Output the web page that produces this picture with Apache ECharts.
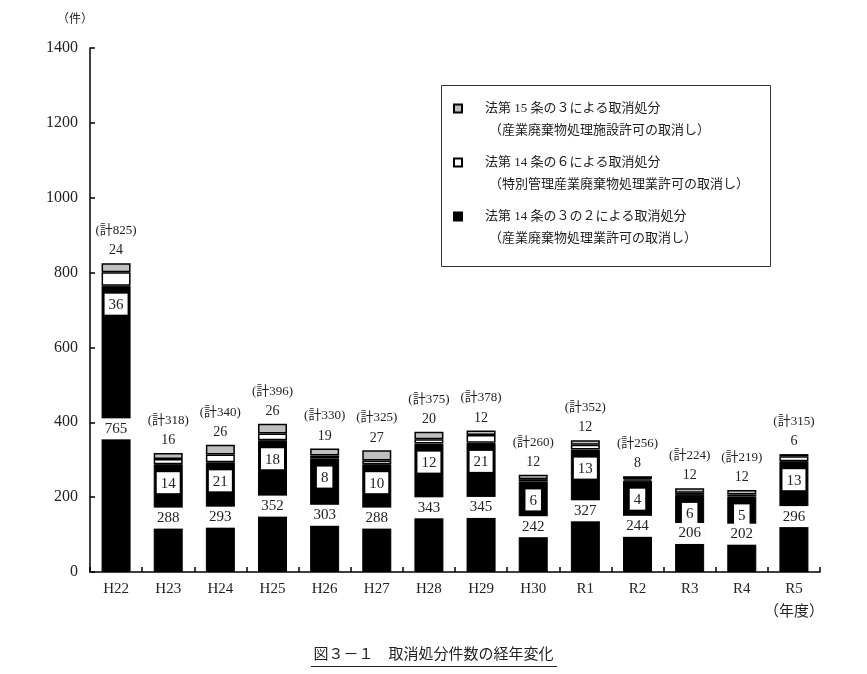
<!DOCTYPE html>
<html>
<head>
<meta charset="utf-8">
<script src="https://cdn.jsdelivr.net/npm/echarts@6/dist/echarts.min.js"></script>
<style>
  html, body { margin: 0; padding: 0; background: #fff; }
  #main { width: 867px; height: 674px; }
</style>
</head>
<body>
<div id="main"></div>
<script>
// 年度
var categories = ['H22', 'H23', 'H24', 'H25', 'H26', 'H27', 'H28', 'H29', 'H30', 'R1', 'R2', 'R3', 'R4', 'R5'];
// 法第14条の3の2による取消処分（産業廃棄物処理業許可の取消し）
var law14_3_2 = [765, 288, 293, 352, 303, 288, 343, 345, 242, 327, 244, 206, 202, 296];
// 法第14条の6による取消処分（特別管理産業廃棄物処理業許可の取消し）
var law14_6 = [36, 14, 21, 18, 8, 10, 12, 21, 6, 13, 4, 6, 5, 13];
// 法第15条の3による取消処分（産業廃棄物処理施設許可の取消し）
var law15_3 = [24, 16, 26, 26, 19, 27, 20, 12, 12, 12, 8, 12, 12, 6];
// 縦軸目盛
var yTicks = [0, 200, 400, 600, 800, 1000, 1200, 1400];

var totals = categories.map(function (c, i) {
    return law14_3_2[i] + law14_6[i] + law15_3[i];
});

var serif = '"Liberation Serif", "DejaVu Serif", "Noto Sans CJK JP", serif';
var jp = '"Liberation Serif", "Noto Sans CJK JP", sans-serif';

var names = [
    '法第 15 条の３による取消処分',
    '法第 14 条の６による取消処分',
    '法第 14 条の３の２による取消処分'
];
var subNames = {};
subNames[names[0]] = '（産業廃棄物処理施設許可の取消し）';
subNames[names[1]] = '（特別管理産業廃棄物処理業許可の取消し）';
subNames[names[2]] = '（産業廃棄物処理業許可の取消し）';

var boxLabel = {
    show: true,
    color: '#222',
    fontFamily: serif,
    fontSize: 15,
    backgroundColor: '#fff',
    padding: [4, 4, 2, 4]
};

var myChart = echarts.init(document.getElementById('main'));
var option = {
    backgroundColor: '#fff',
    animation: false,
    title: {
        text: '図３－１　取消処分件数の経年変化',
        left: 'center',
        top: 643,
        textStyle: {
            fontFamily: jp,
            fontSize: 15,
            fontWeight: 'normal',
            color: '#222'
        }
    },
    graphic: [
        { //凡例の枠
            type: 'rect',
            shape: { x: 441.5, y: 85.5, width: 329, height: 181 },
            style: { fill: 'none', stroke: '#333', lineWidth: 1 }
        },
        { //タイトルの下線
            type: 'line',
            shape: { x1: 311, y1: 666.5, x2: 557, y2: 666.5 },
            style: { stroke: '#222', lineWidth: 1 }
        }
    ],
    legend: {
        orient: 'vertical',
        left: 453,
        top: 80,
        padding: 0,
        icon: 'rect',
        itemWidth: 8,
        itemHeight: 8,
        itemGap: -3,
        data: names,
        formatter: function (name) {
            return '{p| }\n{t|' + name + '}\n{s|' + subNames[name] + '}';
        },
        textStyle: {
            rich: {
                p: { lineHeight: 22, fontSize: 13 },
                t: { lineHeight: 22, fontSize: 13, fontFamily: jp, color: '#222', padding: [0, 0, 0, 18] },
                s: { lineHeight: 22, fontSize: 13, fontFamily: jp, color: '#222', padding: [0, 0, 0, 22] }
            }
        }
    },
    grid: {
        left: 90,
        right: 47,
        top: 48,
        bottom: 102
    },
    xAxis: {
        type: 'category',
        data: categories,
        axisLine: { lineStyle: { color: '#000', width: 1.5 } },
        axisTick: { show: true, inside: true, length: 5, interval: 0, lineStyle: { color: '#000', width: 1.5 } },
        axisLabel: {
            interval: 0,
            color: '#222',
            fontFamily: serif,
            fontSize: 15,
            margin: 6,
            lineHeight: 23,
            formatter: function (v, i) {
                return i === categories.length - 1 ? v + '\n（年度）' : v;
            }
        }
    },
    yAxis: {
        type: 'value',
        min: yTicks[0],
        max: yTicks[yTicks.length - 1],
        interval: 200,
        name: '（件）',
        nameGap: 22,
        nameTextStyle: {
            color: '#222',
            fontFamily: jp,
            fontSize: 12,
            padding: [0, 30, 0, 0]
        },
        axisLine: { show: true, lineStyle: { color: '#000', width: 1.5 } },
        axisTick: { show: true, inside: true, length: 5, lineStyle: { color: '#000', width: 1.5 } },
        splitLine: { show: false },
        axisLabel: {
            color: '#222',
            fontFamily: serif,
            fontSize: 16,
            margin: 12,
            formatter: function (v) { return String(v); }
        }
    },
    series: [
        {
            name: names[2],
            type: 'bar',
            stack: 'total',
            barWidth: 29,
            data: law14_3_2,
            itemStyle: { color: '#000', borderColor: '#000', borderWidth: 1 },
            label: Object.assign({}, boxLabel, { position: 'inside' })
        },
        {
            name: names[1],
            type: 'bar',
            stack: 'total',
            data: law14_6,
            itemStyle: { color: '#fff', borderColor: '#000', borderWidth: 1.5 },
            label: Object.assign({}, boxLabel, { position: 'bottom', distance: 8 })
        },
        {
            name: names[0],
            type: 'bar',
            stack: 'total',
            data: law15_3,
            itemStyle: { color: '#bfbfbf', borderColor: '#000', borderWidth: 1.5 },
            label: {
                show: true,
                position: 'top',
                distance: 3,
                formatter: function (p) {
                    return '{t|(計' + totals[p.dataIndex] + ')}\n{v|' + p.value + '}';
                },
                rich: {
                    t: { fontFamily: jp, fontSize: 13, color: '#222', lineHeight: 21 },
                    v: { fontFamily: serif, fontSize: 14, color: '#222', lineHeight: 19 }
                }
            }
        }
    ]
};
myChart.setOption(option);
</script>
</body>
</html>
